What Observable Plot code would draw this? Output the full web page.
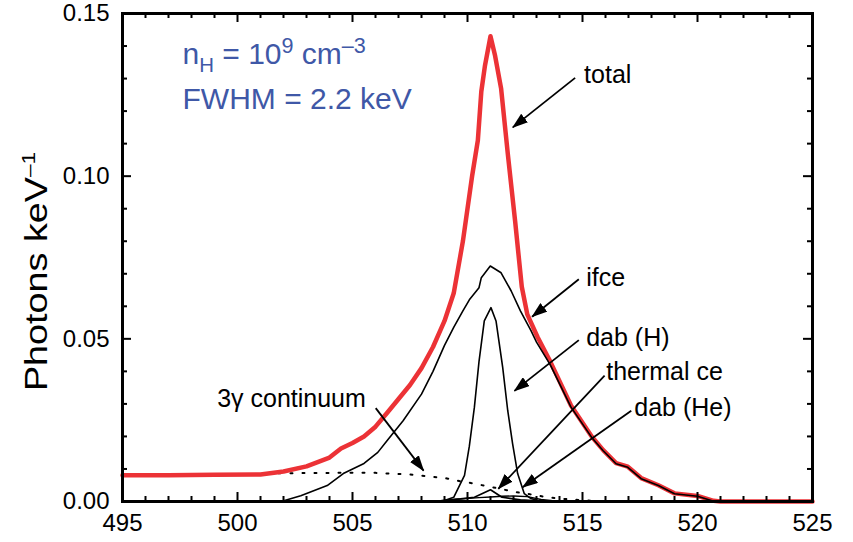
<!DOCTYPE html>
<html><head><meta charset="utf-8">
<script src="https://cdn.jsdelivr.net/npm/d3@7"></script>
<script src="https://cdn.jsdelivr.net/npm/@observablehq/plot@0.6"></script>
<style>
body{margin:0;background:#fff}
#chart{width:853px;height:542px}
</style>
</head><body><div id="chart"></div>
<script>
// ---- axis ticks ----
const xMajor = [495, 500, 505, 510, 515, 520, 525];
const xMinor = [496, 497, 498, 499, 501, 502, 503, 504, 506, 507, 508, 509, 511, 512, 513, 514, 516, 517, 518, 519, 521, 522, 523, 524];
const yMajor = [0, 0.05, 0.10, 0.15];
const yMajorLabels = ["0.00", "0.05", "0.10", "0.15"];
const yMinor = [0.01, 0.02, 0.03, 0.04, 0.06, 0.07, 0.08, 0.09, 0.11, 0.12, 0.13, 0.14];

// ---- series (energy keV, photons/keV) ----
const totalE = [495, 497, 499, 501, 502, 503, 504, 504.5, 505, 505.5, 506, 506.5, 507, 507.5, 508, 508.5, 509, 509.4, 509.8, 510.2, 510.45, 510.6, 510.76, 511.0, 511.2, 511.46, 511.75, 512.07, 512.36, 512.6, 513.05, 513.6, 514.5, 515.4, 515.9, 516.46, 516.97, 517.55, 518.3, 519.0, 520.0, 520.7, 521, 523, 525];
const totalV = [0.0081, 0.0081, 0.0082, 0.0083, 0.0092, 0.0108, 0.0135, 0.0163, 0.0180, 0.0200, 0.0230, 0.0272, 0.0315, 0.0358, 0.0410, 0.0475, 0.0555, 0.0640, 0.0800, 0.1000, 0.1110, 0.1260, 0.1340, 0.1430, 0.1370, 0.1270, 0.1070, 0.0862, 0.0660, 0.0575, 0.0505, 0.0430, 0.0295, 0.0200, 0.0158, 0.0118, 0.0107, 0.0072, 0.0050, 0.0025, 0.0017, 0.0002, 0, 0, 0];

const ifceE = [501.9, 502.75, 503.9, 504.6, 505.5, 506.1, 506.5, 507.2, 508.0, 508.5, 509.0, 509.4, 509.8, 510.08, 510.5, 510.6, 510.99, 511.46, 511.9, 512.3, 512.76, 513.0, 513.6, 514.5, 515.4, 515.9, 516.46, 516.97, 517.55, 518.3, 519.0, 520.0, 520.7, 521, 525];
const ifceV = [0, 0.0018, 0.0049, 0.0086, 0.0117, 0.0151, 0.0187, 0.0248, 0.0330, 0.0400, 0.0480, 0.0535, 0.0586, 0.0620, 0.0657, 0.0688, 0.0724, 0.0703, 0.0647, 0.0586, 0.0525, 0.0490, 0.0420, 0.0290, 0.0197, 0.0156, 0.0116, 0.0105, 0.0070, 0.0049, 0.0024, 0.0016, 0.0001, 0, 0];

const dabHE = [508.6, 509.0, 509.4, 509.87, 510.08, 510.3, 510.5, 510.73, 511.02, 511.24, 511.53, 511.75, 511.96, 512.18, 512.47, 512.76, 513.2];
const dabHV = [0, 0.0003, 0.0013, 0.0080, 0.0170, 0.0290, 0.0430, 0.0555, 0.0596, 0.0555, 0.0412, 0.0279, 0.0178, 0.0086, 0.0024, 0.0009, 0];

const thermalE = [508.5, 509.06, 509.7, 510.3, 511.0, 511.5, 512.3, 513.0, 513.5];
const thermalV = [0, 0.0004, 0.0008, 0.0013, 0.0036, 0.0013, 0.0005, 0.0002, 0];

const dabHeE = [508.5, 509.5, 510.5, 511.0, 511.5, 512.0, 512.6, 513.2, 514.0];
const dabHeV = [0, 0.0007, 0.0012, 0.0014, 0.0016, 0.0017, 0.0015, 0.0006, 0];

const contE = [495, 498, 501, 502, 504, 506, 507.5, 508.5, 509.1, 509.7, 510.3, 510.9, 511.4, 511.96, 512.5, 513.05, 513.6, 514.5, 515.5, 516.5, 517.5];
const contV = [0.0080, 0.0082, 0.0085, 0.0087, 0.0088, 0.0088, 0.0083, 0.0076, 0.0071, 0.0062, 0.0055, 0.0046, 0.0040, 0.0030, 0.0025, 0.0018, 0.0012, 0.0006, 0.0002, 0.0001, 0];

// ---- annotations ----
const labelText = ["total", "ifce", "dab (H)", "thermal ce", "dab (He)"];
const labelX    = [515.07, 515.16, 515.16, 516.03, 517.25];
const labelY    = [0.1310, 0.0687, 0.0503, 0.0399, 0.0288];
const contLabelText = ["3γ continuum"];
const contLabelX = [505.58];
const contLabelY = [0.0315];
const arrowX1 = [514.68, 514.84, 514.84, 515.96, 517.12, 506.01];
const arrowY1 = [0.1302, 0.0683, 0.0496, 0.0387, 0.0279, 0.0287];
const arrowX2 = [511.97, 512.81, 512.04, 511.34, 512.40, 508.09];
const arrowY2 = [0.1150, 0.0568, 0.0340, 0.0039, 0.0044, 0.0095];

const infoText = ["n_{H} = 10^{9} cm^{–3}", "FWHM = 2.2 keV"];
const infoX = [497.61, 497.61];
const infoY = [0.1373, 0.1235];

const yTitle = "Photons keV^{–1}";

const RED = "#ec3236";
const BLUE = "#3f58a7";
const FONT = "'Liberation Sans', Arial, Helvetica, sans-serif";

const pts = (E, V) => E.map((e, i) => ({e, v: V[i]}));
const labels = labelText.map((t, i) => ({t, x: labelX[i], y: labelY[i]}));
const contLabels = contLabelText.map((t, i) => ({t, x: contLabelX[i], y: contLabelY[i]}));
const arrows = arrowX1.map((x1, i) => ({x1, y1: arrowY1[i], x2: arrowX2[i], y2: arrowY2[i]}));
const info = infoText.map((t, i) => ({t, x: infoX[i], y: infoY[i]}));

const plot = Plot.plot({
  width: 853, height: 542,
  marginLeft: 122, marginRight: 41, marginTop: 13, marginBottom: 41,
  x: {domain: [495, 525], axis: null},
  y: {domain: [0, 0.15], axis: null},
  style: {fontFamily: FONT, background: "white", overflow: "visible"},
  marks: [
    Plot.line(pts(contE, contV), {x: "e", y: "v", stroke: "black", strokeWidth: 2, strokeDasharray: "2,10"}),
    Plot.line(pts(totalE, totalV), {x: "e", y: "v", stroke: RED, strokeWidth: 4.5, strokeLinejoin: "round"}),
    Plot.line(pts(ifceE, ifceV), {x: "e", y: "v", stroke: "black", strokeWidth: 1.6}),
    Plot.line(pts(dabHE, dabHV), {x: "e", y: "v", stroke: "black", strokeWidth: 1.6}),
    Plot.line(pts(thermalE, thermalV), {x: "e", y: "v", stroke: "black", strokeWidth: 1.6}),
    Plot.line(pts(dabHeE, dabHeV), {x: "e", y: "v", stroke: "black", strokeWidth: 1.4}),
    Plot.link(arrows, {x1: "x1", y1: "y1", x2: "x2", y2: "y2", stroke: "black", strokeWidth: 1.8}),
    Plot.text(labels, {x: "x", y: "y", text: "t", textAnchor: "start", lineAnchor: "middle", fontSize: 25, fill: "black"}),
    Plot.text(contLabels, {x: "x", y: "y", text: "t", textAnchor: "end", lineAnchor: "middle", fontSize: 25, fill: "black"}),
    Plot.text(info, {x: "x", y: "y", text: "t", textAnchor: "start", lineAnchor: "middle", fontSize: 30, fill: BLUE}),
    // ticks (inward) on all four sides
    Plot.ruleX(xMajor, {x: d => d, y1: 0, y2: 0, insetBottom: 9, stroke: "black", strokeWidth: 2}),
    Plot.ruleX(xMinor, {x: d => d, y1: 0, y2: 0, insetBottom: 5, stroke: "black", strokeWidth: 2}),
    Plot.ruleX(xMajor, {x: d => d, y1: 0.15, y2: 0.15, insetTop: 9, stroke: "black", strokeWidth: 2}),
    Plot.ruleX(xMinor, {x: d => d, y1: 0.15, y2: 0.15, insetTop: 5, stroke: "black", strokeWidth: 2}),
    Plot.ruleY(yMajor, {y: d => d, x1: 495, x2: 495, insetLeft: 9, stroke: "black", strokeWidth: 2}),
    Plot.ruleY(yMinor, {y: d => d, x1: 495, x2: 495, insetLeft: 5, stroke: "black", strokeWidth: 2}),
    Plot.ruleY(yMajor, {y: d => d, x1: 525, x2: 525, insetRight: 9, stroke: "black", strokeWidth: 2}),
    Plot.ruleY(yMinor, {y: d => d, x1: 525, x2: 525, insetRight: 5, stroke: "black", strokeWidth: 2}),
    // tick labels
    Plot.text(xMajor, {x: d => d, y: 0, text: d => String(d), lineAnchor: "top", dy: 12, fontSize: 24, fill: "black"}),
    Plot.text(yMajor, {x: 495, y: d => d, text: (d, i) => yMajorLabels[i], textAnchor: "end", lineAnchor: "middle", dx: -13, fontSize: 24, fill: "black"}),
    Plot.frame({stroke: "black", strokeWidth: 3}),
    Plot.text([yTitle], {frameAnchor: "left", text: d => d, rotate: -90, dx: -86, dy: 14, lineAnchor: "middle", textAnchor: "middle", fontSize: 32, fill: "black"})
  ]
});

// arrowheads (filled)
const NS = "http://www.w3.org/2000/svg";
const defs = document.createElementNS(NS, "defs");
defs.innerHTML = '<marker id="ahead" viewBox="0 0 16 11" refX="15" refY="5.5" markerWidth="16" markerHeight="11" markerUnits="userSpaceOnUse" orient="auto"><path d="M0,0L16,5.5L0,11Z" fill="black"/></marker>';
plot.insertBefore(defs, plot.firstChild);
plot.querySelectorAll('g[aria-label="link"] path, g[aria-label="link"] line').forEach(p => p.setAttribute("marker-end", "url(#ahead)"));

// sub/superscripts
plot.querySelectorAll("text").forEach(t => {
  const s = t.textContent;
  if (!/[\^_]\{/.test(s)) return;
  const isTitle = s.startsWith("Photons");
  t.textContent = "";
  const re = /([\^_])\{([^}]*)\}|([^\^_]+)/g;
  let m, cur = 0;
  while ((m = re.exec(s))) {
    const ts = document.createElementNS(NS, "tspan");
    let target = 0;
    if (m[1] === "^") { ts.textContent = m[2]; ts.setAttribute("font-size", isTitle ? "60%" : "72%"); target = isTitle ? -12 : -11; }
    else if (m[1] === "_") { ts.textContent = m[2]; ts.setAttribute("font-size", "68%"); target = 8; }
    else ts.textContent = m[3];
    if (target !== cur) ts.setAttribute("dy", target - cur);
    cur = target;
    t.appendChild(ts);
  }
  // the axis title is drawn a little elongated, as in the reference
  if (isTitle) {
    const tr = t.getAttribute("transform") || "";
    t.setAttribute("transform", tr.replace("rotate(", "scale(1,1.18) rotate("));
  }
});

document.getElementById("chart").appendChild(plot);
</script></body></html>
